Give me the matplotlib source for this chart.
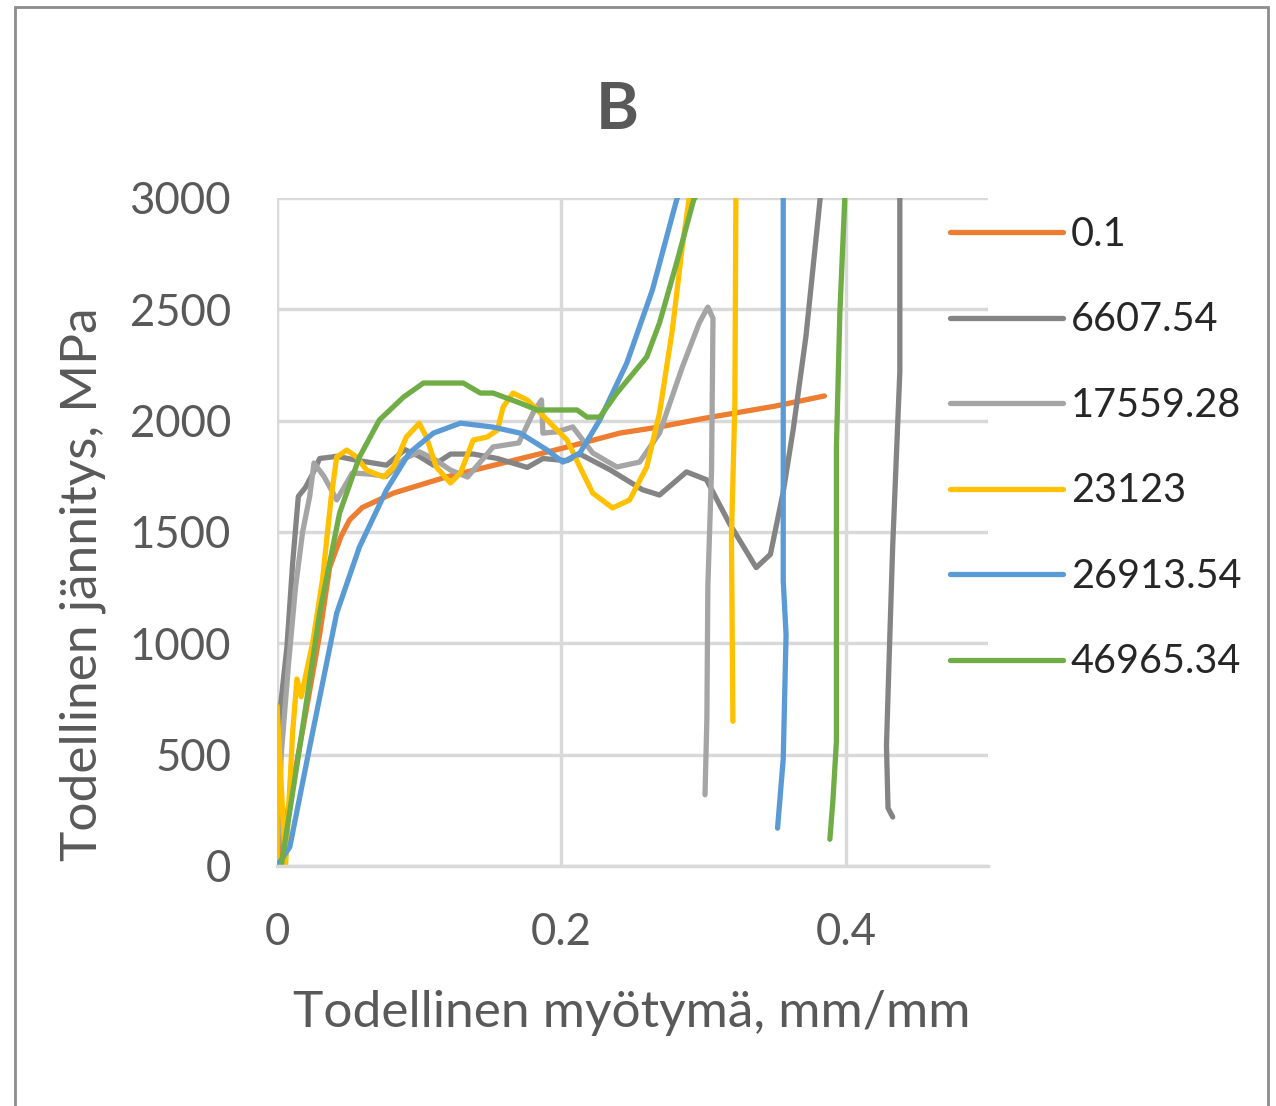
import matplotlib
matplotlib.use('Agg')
import matplotlib.pyplot as plt
from matplotlib.patches import Rectangle

plt.rcParams['font.family'] = ['Lato', 'DejaVu Sans']

# sarjojen nimet ja värit
labels = ['0.1', '6607.54', '17559.28', '23123', '26913.54', '46965.34']
colors = ['#ED7D31', '#848484', '#A5A5A5', '#FFC000', '#5B9BD5', '#70AD47']

# 0.1
x_01 = [0, 0.01, 0.02, 0.03, 0.037, 0.045, 0.051, 0.06, 0.082, 0.119, 0.176, 0.2,
        0.241, 0.269, 0.3, 0.35, 0.385]
y_01 = [0, 330, 680, 1040, 1340, 1480, 1554, 1610, 1675, 1747, 1837, 1875,
        1944, 1972, 2010, 2065, 2111]

# 6607.54
x_6607 = [0, 0.002, 0.007, 0.011, 0.015, 0.02, 0.025, 0.03, 0.042, 0.058, 0.077, 0.09,
          0.1, 0.11, 0.122, 0.138, 0.155, 0.176, 0.187, 0.204, 0.213, 0.234, 0.257,
          0.269, 0.288, 0.302, 0.318, 0.337, 0.347, 0.356, 0.363, 0.372, 0.382, 0.41,
          0.438, 0.438, 0.433, 0.431, 0.4286, 0.4297, 0.433]
y_6607 = [0, 690, 985, 1360, 1660, 1700, 1760, 1830, 1840, 1820, 1800, 1870,
          1840, 1800, 1850, 1850, 1830, 1790, 1830, 1820, 1850, 1780, 1690,
          1666, 1770, 1735, 1540, 1340, 1400, 1680, 1960, 2380, 3000, 3400,
          3000, 2220, 1440, 1040, 540, 260, 220]

# 17559.28
x_17559 = [0, 0.003, 0.008, 0.013, 0.018, 0.023, 0.026, 0.033, 0.042, 0.053, 0.065,
           0.077, 0.09, 0.1, 0.11, 0.122, 0.134, 0.152, 0.17, 0.18, 0.186, 0.187,
           0.197, 0.208, 0.222, 0.239, 0.255, 0.269, 0.285, 0.297, 0.303, 0.3066,
           0.3056, 0.303, 0.3023, 0.301]
y_17559 = [0, 500, 900, 1250, 1500, 1660, 1810, 1750, 1644, 1765, 1760,
           1750, 1830, 1860, 1830, 1778, 1747, 1882, 1900, 2034, 2093, 1944,
           1950, 1972, 1855, 1792, 1814, 1944, 2240, 2440, 2510, 2460,
           1780, 1260, 660, 320]

# 23123
x_23123 = [0, 0, 0.006, 0.011, 0.014, 0.017, 0.025, 0.032, 0.038, 0.042, 0.049, 0.056,
           0.063, 0.075, 0.082, 0.091, 0.1, 0.105, 0.112, 0.122, 0.129, 0.138, 0.148,
           0.155, 0.159, 0.166, 0.176, 0.19, 0.204, 0.213, 0.222, 0.236, 0.248, 0.26,
           0.269, 0.278, 0.285, 0.29, 0.31, 0.3227, 0.322, 0.3196, 0.3206]
y_23123 = [0, 720, 0, 600, 840, 760, 1000, 1285, 1650, 1837, 1868, 1837,
           1778, 1747, 1792, 1927, 1988, 1927, 1792, 1720, 1765, 1913, 1927,
           1958, 2061, 2124, 2093, 2003, 1913, 1792, 1675, 1608, 1644, 1792,
           2034, 2407, 2780, 3005, 3500, 3000, 2080, 1480, 650]

# 26913.54
x_26913 = [0, 0.009, 0.023, 0.042, 0.058, 0.077, 0.093, 0.11, 0.129, 0.152, 0.171, 0.19,
           0.201, 0.213, 0.227, 0.246, 0.264, 0.281, 0.32, 0.356, 0.356, 0.358, 0.356, 0.352]
y_26913 = [0, 85, 535, 1136, 1433, 1689, 1855, 1944, 1989, 1971, 1944, 1868,
           1814, 1855, 2003, 2259, 2587, 2991, 3600, 3000, 1280, 1040, 480, 170]

# 46965.34
x_46965 = [0.003, 0.016, 0.03, 0.044, 0.058, 0.072, 0.089, 0.103, 0.131, 0.143, 0.152,
           0.171, 0.183, 0.211, 0.218, 0.227, 0.239, 0.26, 0.269, 0.281, 0.293, 0.35,
           0.3993, 0.3958, 0.3934, 0.3934, 0.3934, 0.391, 0.3888]
y_46965 = [0, 535, 1136, 1585, 1837, 2003, 2106, 2169, 2169, 2124, 2124,
           2079, 2048, 2048, 2016, 2016, 2124, 2286, 2439, 2708, 2991, 3600,
           3000, 2480, 1880, 1080, 560, 300, 120]

xs = [x_01, x_6607, x_17559, x_23123, x_26913, x_46965]
ys = [y_01, y_6607, y_17559, y_23123, y_26913, y_46965]

fig = plt.figure(figsize=(12.76, 11.06), dpi=100)
ax = fig.add_axes([277 / 1276, 240 / 1106, 711 / 1276, 668 / 1106])

for x, y, lab, c in zip(xs, ys, labels, colors):
    ax.plot(x, y, color=c, lw=3.8, label=lab, solid_joinstyle='round',
            solid_capstyle='round')

ax.set_xlim(0, 0.5)
ax.set_ylim(0, 3000)
ax.set_xticks([0, 0.2, 0.4])
ax.set_xticklabels(['0', '0.2', '0.4'])
ax.set_yticks(range(0, 3001, 500))
ax.grid(True, color='#D9D9D9', lw=2.5)
ax.set_axisbelow(True)
for s in ['top', 'right', 'left']:
    ax.spines[s].set_visible(False)
ax.spines['bottom'].set_color('#D9D9D9')
ax.spines['bottom'].set_linewidth(2.5)
ax.tick_params(length=0, labelsize=31.5, colors='#595959')
ax.tick_params(axis='y', pad=33)
ax.tick_params(axis='x', pad=33)

fig.text(617 / 1276, 1 - 110 / 1106, 'B', ha='center', va='center',
         fontsize=47, fontweight='bold', color='#595959')
fig.text(632 / 1276, 1 - 1013 / 1106, 'Todellinen myötymä, mm/mm', ha='center',
         va='center', fontsize=37, color='#595959')
fig.text(83 / 1276, 1 - 584 / 1106, 'Todellinen jännitys, MPa', ha='center',
         va='center', rotation=90, fontsize=37, color='#595959')

ax.legend(loc='upper left', bbox_to_anchor=(950 / 1276, 1 - 216 / 1106),
          bbox_transform=fig.transFigure, frameon=False, fontsize=28.5,
          handlelength=2.85, handletextpad=0.2, labelspacing=1.225, borderpad=0,
          borderaxespad=0, labelcolor='#262626')

fig.patches.append(Rectangle((15 / 1276, -0.02), 1253 / 1276, 1.02 - 7 / 1106,
                             fill=False, edgecolor='#8C8C8C', lw=2,
                             transform=fig.transFigure))

plt.savefig('out.png', dpi=100)
